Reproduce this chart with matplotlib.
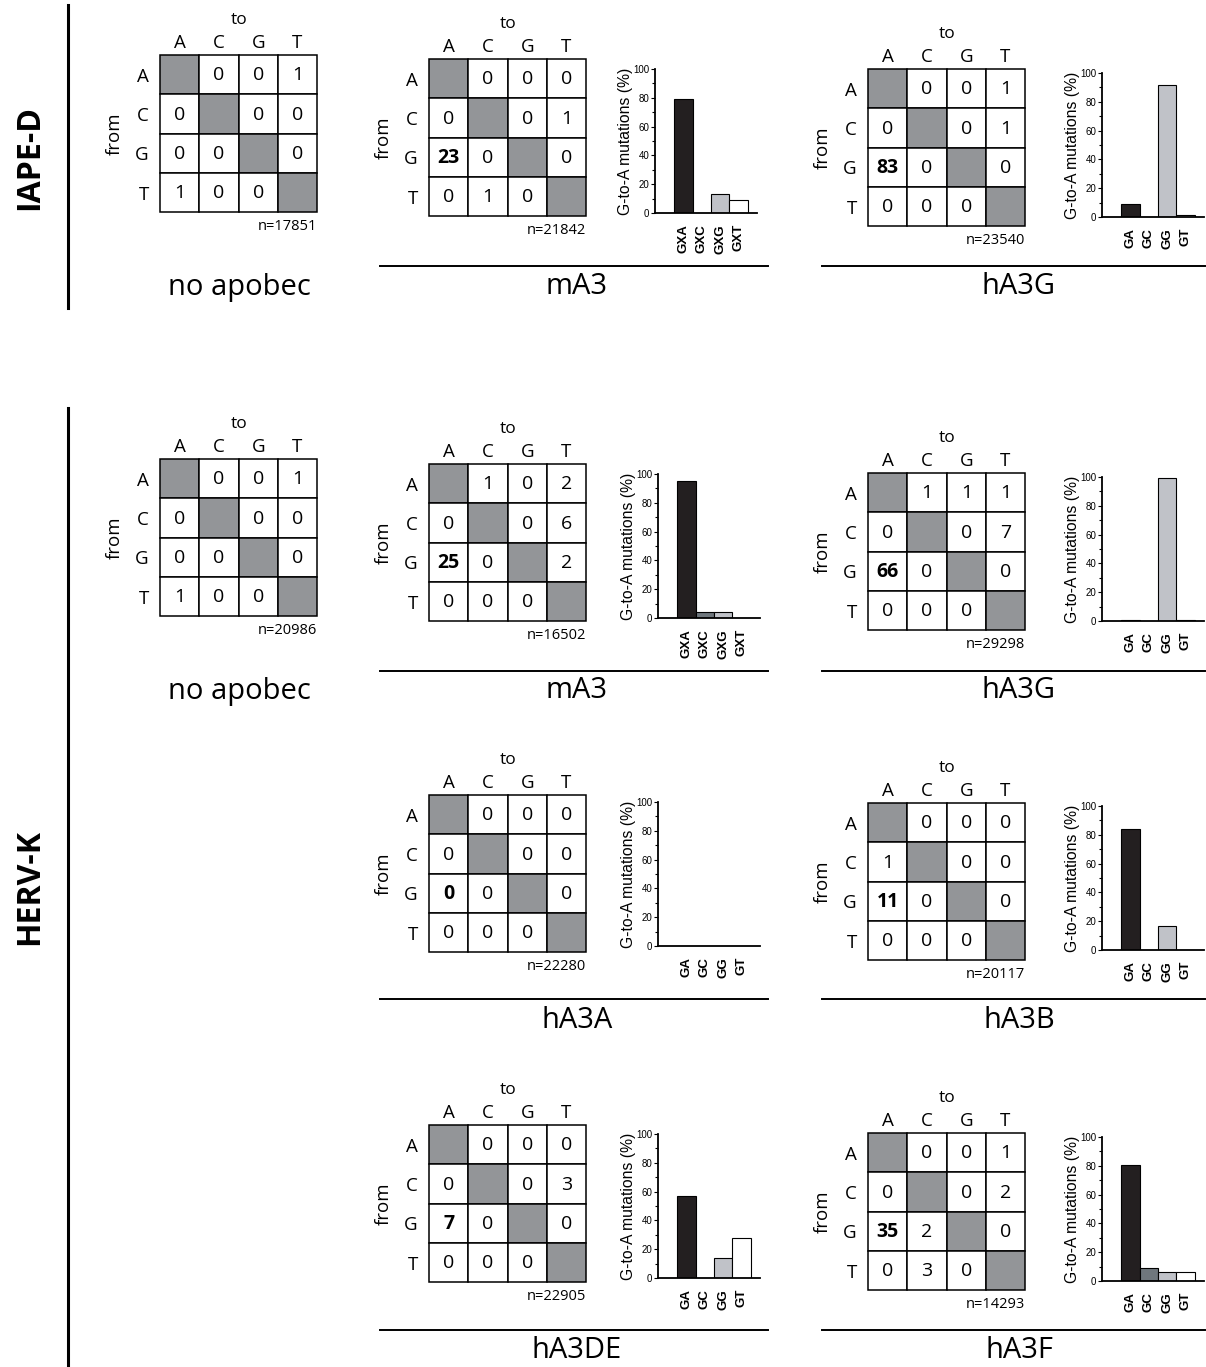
import matplotlib
matplotlib.use("Agg")
import matplotlib.pyplot as plt
from matplotlib.patches import Rectangle
from matplotlib.lines import Line2D

W, H = 1206, 1367
BASES = ["A", "C", "G", "T"]
X = None  # diagonal cell, no value

# substitution counts, rows = from, cols = to
IAPE_NONE = [[X, 0, 0, 1], [0, X, 0, 0], [0, 0, X, 0], [1, 0, 0, X]]
IAPE_MA3 = [[X, 0, 0, 0], [0, X, 0, 1], [23, 0, X, 0], [0, 1, 0, X]]
IAPE_HA3G = [[X, 0, 0, 1], [0, X, 0, 1], [83, 0, X, 0], [0, 0, 0, X]]
HERV_NONE = [[X, 0, 0, 1], [0, X, 0, 0], [0, 0, X, 0], [1, 0, 0, X]]
HERV_MA3 = [[X, 1, 0, 2], [0, X, 0, 6], [25, 0, X, 2], [0, 0, 0, X]]
HERV_HA3G = [[X, 1, 1, 1], [0, X, 0, 7], [66, 0, X, 0], [0, 0, 0, X]]
HERV_HA3A = [[X, 0, 0, 0], [0, X, 0, 0], [0, 0, X, 0], [0, 0, 0, X]]
HERV_HA3B = [[X, 0, 0, 0], [1, X, 0, 0], [11, 0, X, 0], [0, 0, 0, X]]
HERV_HA3DE = [[X, 0, 0, 0], [0, X, 0, 3], [7, 0, X, 0], [0, 0, 0, X]]
HERV_HA3F = [[X, 0, 0, 1], [0, X, 0, 2], [35, 2, X, 0], [0, 3, 0, X]]

N_SEQ = {
    "IAPE_NONE": 17851, "IAPE_MA3": 21842, "IAPE_HA3G": 23540,
    "HERV_NONE": 20986, "HERV_MA3": 16502, "HERV_HA3G": 29298,
    "HERV_HA3A": 22280, "HERV_HA3B": 20117, "HERV_HA3DE": 22905,
    "HERV_HA3F": 14293,
}

# G-to-A context (%) : GA, GC, GG, GT
CTX_LABELS_M = ["GXA", "GXC", "GXG", "GXT"]
CTX_LABELS_H = ["GA", "GC", "GG", "GT"]
BAR_IAPE_MA3 = [79, 0, 13, 9]
BAR_IAPE_HA3G = [9, 0, 91.5, 1.5]
BAR_HERV_MA3 = [95, 4, 4, 0]
BAR_HERV_HA3G = [1, 0, 99, 1]
BAR_HERV_HA3A = [0, 0, 0, 0]
BAR_HERV_HA3B = [84, 0, 17, 0]
BAR_HERV_HA3DE = [57, 0, 14, 28]
BAR_HERV_HA3F = [80.5, 9, 6.5, 6.5]

BAR_COLORS = ["#231f20", "#6f777d", "#c0c2c8", "#ffffff"]
DIAG = "#939598"
CELL = 39.3
MFONT = "Open Sans"
BFONT = "Liberation Sans"

fig = plt.figure(figsize=(W / 100, H / 100), dpi=100)


def px_axes(left, top, w, h):
    return fig.add_axes([left / W, 1 - (top + h) / H, w / W, h / H])


def fig_line(x0, x1, y0, y1, lw):
    fig.add_artist(Line2D([x0 / W, x1 / W], [1 - y0 / H, 1 - y1 / H],
                          transform=fig.transFigure, color="black", lw=lw))


def fig_text(x, y, s, **kw):
    fig.text(x / W, 1 - y / H, s, ha="center", va="center", **kw)


def draw_matrix(left, top, counts, n, bold_ga=True):
    size = CELL * 4
    ax = px_axes(left, top, size, size)
    ax.set_xlim(0, 4)
    ax.set_ylim(4, 0)
    for i in range(4):
        for j in range(4):
            v = counts[i][j]
            fc = DIAG if v is None else "white"
            ax.add_patch(Rectangle((j, i), 1, 1, facecolor=fc,
                                   edgecolor="black", lw=1.1, clip_on=False))
            if v is not None:
                bold = bold_ga and i == 2 and j == 0
                ax.text(j + 0.5, i + 0.52, str(v), ha="center", va="center",
                        fontsize=14, family=MFONT,
                        fontweight="bold" if bold else "normal")
    for s in ax.spines.values():
        s.set_visible(False)
    ax.xaxis.tick_top()
    ax.set_xticks([0.5, 1.5, 2.5, 3.5])
    ax.set_xticklabels(BASES, family=MFONT, fontsize=13.5)
    ax.set_yticks([0.5, 1.5, 2.5, 3.5])
    ax.set_yticklabels(BASES, family=MFONT, fontsize=13.5)
    ax.tick_params(length=0, pad=8)
    ax.tick_params(axis="x", pad=2)
    ax.xaxis.set_label_position("top")
    ax.set_xlabel("to", family=MFONT, fontsize=12.5)
    ax.xaxis.set_label_coords(0.5, 1.2)
    ax.set_ylabel("from", family=MFONT, fontsize=13.5)
    ax.yaxis.set_label_coords(-0.23, 0.5)
    ax.annotate(f"n={n}", xy=(1, 0), xycoords="axes fraction",
                xytext=(0, -5), textcoords="offset points",
                ha="right", va="top", family=MFONT, fontsize=10.5)
    return ax


def draw_bars(left, top, vals, labels):
    h = 144
    ax = px_axes(left, top, 102, h)
    ax.bar(range(4), vals, width=1, color=BAR_COLORS, edgecolor="black",
           lw=0.8)
    ax.set_xlim(-1.55, 4.0)
    ax.set_ylim(0, 100)
    ax.spines["top"].set_visible(False)
    ax.spines["right"].set_visible(False)
    ax.spines["left"].set_linewidth(1.3)
    ax.spines["bottom"].set_linewidth(1.3)
    ax.set_yticks([0, 20, 40, 60, 80, 100])
    ax.set_yticks([10, 30, 50, 70, 90], minor=True)
    ax.tick_params(axis="y", which="major", length=3, width=0.8, pad=1,
                   labelsize=7)
    ax.tick_params(axis="y", which="minor", length=2, width=0.8)
    ax.set_xticks(range(4))
    ax.set_xticklabels(labels, rotation=90, fontweight="bold",
                       family=BFONT, fontsize=9.5)
    ax.tick_params(axis="x", length=0, pad=8)
    for t in ax.get_yticklabels():
        t.set_family(BFONT)
    ax.set_ylabel("G-to-A mutations (%)", family=BFONT, fontsize=11.3)
    ax.yaxis.set_label_coords(-0.22, 0.5)
    return ax


# IAPE-D row
draw_matrix(160, 55, IAPE_NONE, N_SEQ["IAPE_NONE"], bold_ga=False)
draw_matrix(429, 59, IAPE_MA3, N_SEQ["IAPE_MA3"])
draw_bars(655, 69, BAR_IAPE_MA3, CTX_LABELS_M)
draw_matrix(868, 69, IAPE_HA3G, N_SEQ["IAPE_HA3G"])
draw_bars(1102, 73, BAR_IAPE_HA3G, CTX_LABELS_H)

# HERV-K rows
draw_matrix(160, 459, HERV_NONE, N_SEQ["HERV_NONE"], bold_ga=False)
draw_matrix(429, 464, HERV_MA3, N_SEQ["HERV_MA3"])
draw_bars(658, 474, BAR_HERV_MA3, CTX_LABELS_M)
draw_matrix(868, 473, HERV_HA3G, N_SEQ["HERV_HA3G"])
draw_bars(1102, 477, BAR_HERV_HA3G, CTX_LABELS_H)

draw_matrix(429, 795, HERV_HA3A, N_SEQ["HERV_HA3A"])
draw_bars(658, 802, BAR_HERV_HA3A, CTX_LABELS_H)
draw_matrix(868, 803, HERV_HA3B, N_SEQ["HERV_HA3B"])
draw_bars(1102, 806, BAR_HERV_HA3B, CTX_LABELS_H)

draw_matrix(429, 1125, HERV_HA3DE, N_SEQ["HERV_HA3DE"])
draw_bars(658, 1134, BAR_HERV_HA3DE, CTX_LABELS_H)
draw_matrix(868, 1133, HERV_HA3F, N_SEQ["HERV_HA3F"])
draw_bars(1102, 1137, BAR_HERV_HA3F, CTX_LABELS_H)

# panel titles and underlines
for y_line, y_txt, names in [(266, 287, ("no apobec", "mA3", "hA3G")),
                             (671, 691, ("no apobec", "mA3", "hA3G")),
                             (999, 1020, (None, "hA3A", "hA3B")),
                             (1330, 1350, (None, "hA3DE", "hA3F"))]:
    if names[0]:
        fig_text(239, y_txt, names[0], family=MFONT, fontsize=21)
    fig_line(380, 768, y_line, y_line, 1.4)
    fig_line(822, 1205, y_line, y_line, 1.4)
    fig_text(577, y_txt, names[1], family=MFONT, fontsize=21)
    fig_text(1019, y_txt, names[2], family=MFONT, fontsize=21)

# group labels
fig_line(68, 68, 5, 308, 2.2)
fig_line(68, 68, 408, 1365, 2.2)
fig_text(30, 157, "IAPE-D", family=MFONT, fontsize=23, fontweight="bold",
         rotation=90)
fig_text(30, 887, "HERV-K", family=MFONT, fontsize=23, fontweight="bold",
         rotation=90)

fig.savefig("out.png", dpi=100)
